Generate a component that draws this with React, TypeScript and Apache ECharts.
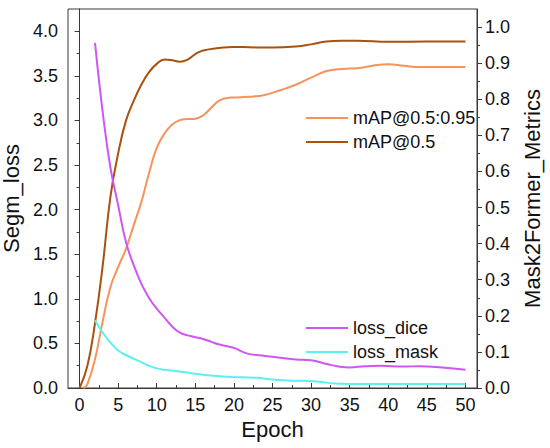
import React, { useEffect, useRef } from "react";
import * as echarts from "echarts";

// ---- data ----
const mapStrictX = [0.5, 1, 2, 3, 4, 5, 6, 7, 8, 9, 10, 11, 12, 13, 14, 15, 16, 17, 18, 19, 20, 22, 24, 26, 28, 30, 32, 34, 36, 38, 40, 42, 44, 47, 50];
const mapStrictY = [0, 0.01, 0.08, 0.185, 0.28, 0.335, 0.385, 0.45, 0.515, 0.595, 0.665, 0.705, 0.73, 0.742, 0.745, 0.746, 0.755, 0.775, 0.795, 0.803, 0.805, 0.807, 0.812, 0.825, 0.84, 0.86, 0.878, 0.884, 0.886, 0.893, 0.897, 0.893, 0.889, 0.889, 0.889];

const map50X = [0, 1, 2, 3, 4, 5, 6, 7, 8, 9, 10, 11, 12, 13, 14, 15, 16, 18, 20, 22, 25, 28, 30, 32, 34, 36, 40, 45, 50];
const map50Y = [0, 0.06, 0.18, 0.34, 0.53, 0.65, 0.74, 0.795, 0.84, 0.875, 0.898, 0.91, 0.908, 0.904, 0.91, 0.925, 0.935, 0.942, 0.945, 0.944, 0.943, 0.946, 0.952, 0.96, 0.962, 0.962, 0.959, 0.96, 0.96];

const diceX = [2, 3, 4, 5, 6, 7, 8, 9, 10, 11, 12, 13, 14, 15, 16, 17, 18, 19, 20, 21, 22, 24, 26, 28, 30, 32, 34, 35, 37, 39, 42, 44, 47, 50];
const diceY = [3.87, 3.09, 2.47, 2.05, 1.64, 1.38, 1.17, 1.01, 0.89, 0.79, 0.69, 0.62, 0.59, 0.57, 0.55, 0.52, 0.49, 0.47, 0.45, 0.41, 0.38, 0.36, 0.34, 0.32, 0.31, 0.27, 0.235, 0.23, 0.245, 0.25, 0.24, 0.245, 0.23, 0.205];

const maskX = [2, 3, 4, 5, 6, 7, 8, 9, 10, 11, 12, 13, 15, 17, 19, 21, 23, 25, 27, 29, 31, 33, 35, 40, 45, 50];
const maskY = [0.76, 0.62, 0.51, 0.42, 0.37, 0.33, 0.29, 0.25, 0.22, 0.205, 0.195, 0.185, 0.16, 0.14, 0.125, 0.12, 0.115, 0.095, 0.085, 0.08, 0.07, 0.05, 0.045, 0.045, 0.045, 0.045];

// ---- ticks ----
const xMajorTicks = [0, 5, 10, 15, 20, 25, 30, 35, 40, 45, 50];
const xMinorTicks = [2.5, 7.5, 12.5, 17.5, 22.5, 27.5, 32.5, 37.5, 42.5, 47.5];
const lossMajorTicks = [0, 0.5, 1.0, 1.5, 2.0, 2.5, 3.0, 3.5, 4.0];
const lossMinorTicks = [0.25, 0.75, 1.25, 1.75, 2.25, 2.75, 3.25, 3.75];
const metricMajorTicks = [0, 0.1, 0.2, 0.3, 0.4, 0.5, 0.6, 0.7, 0.8, 0.9, 1.0];
const metricMinorTicks = [0.05, 0.15, 0.25, 0.35, 0.45, 0.55, 0.65, 0.75, 0.85, 0.95];

const zip = (xs: number[], ys: number[]) => xs.map((x, i) => [x, ys[i]]);

const AXIS_COLOR = "#3a3a3a";
const FONT = "Liberation Sans, Arial, sans-serif";

export default function App() {
  const ref = useRef<HTMLDivElement>(null);
  useEffect(() => {
    if (!ref.current) return;
    const chart = echarts.init(ref.current, undefined, { renderer: "svg" });
    const xCommon = {
      type: "value",
      min: -1.5,
      max: 51.5,
      position: "bottom",
      splitLine: { show: false },
    };
    const lossCommon = {
      type: "value",
      min: 0,
      max: 4.25,
      position: "left",
      splitLine: { show: false },
    };
    const metricCommon = {
      type: "value",
      min: 0,
      max: 1.05,
      position: "right",
      splitLine: { show: false },
    };
    const line = (color: string) => ({
      type: "line",
      showSymbol: false,
      symbol: "none",
      smooth: 0.45,
      lineStyle: { color, width: 2 },
      itemStyle: { color },
    });
    chart.setOption({
      animation: false,
      textStyle: { fontFamily: FONT },
      grid: {
        left: 68,
        right: 73,
        top: 9,
        bottom: 60,
        outerBoundsMode: "none",
        containLabel: false,
        show: true,
        borderColor: AXIS_COLOR,
        borderWidth: 1,
      },
      legend: [
        {
          data: ["mAP@0.5:0.95", "mAP@0.5"],
          orient: "vertical",
          left: 301,
          top: 103,
          icon: "rect",
          itemWidth: 42,
          itemHeight: 2,
          itemGap: 4,
          selectedMode: false,
          textStyle: { fontSize: 18, color: "#111", lineHeight: 20, fontFamily: FONT },
        },
        {
          data: ["loss_dice", "loss_mask"],
          orient: "vertical",
          left: 301,
          top: 313,
          icon: "rect",
          itemWidth: 42,
          itemHeight: 2,
          itemGap: 4,
          selectedMode: false,
          textStyle: { fontSize: 18, color: "#111", lineHeight: 20, fontFamily: FONT },
        },
      ],
      xAxis: [
        {
          ...xCommon,
          name: "Epoch",
          nameLocation: "middle",
          nameGap: 27,
          nameTextStyle: { fontSize: 22, color: "#111", fontFamily: FONT },
          axisLine: { show: true, lineStyle: { color: AXIS_COLOR, width: 1 } },
          axisTick: { show: true, inside: true, length: 5, customValues: xMajorTicks, lineStyle: { color: AXIS_COLOR } },
          axisLabel: { show: true, customValues: xMajorTicks, fontSize: 18, color: "#111", margin: 8, fontFamily: FONT },
        },
        {
          ...xCommon,
          axisLine: { show: false },
          axisTick: { show: true, inside: true, length: 3, customValues: xMinorTicks, lineStyle: { color: AXIS_COLOR } },
          axisLabel: { show: false },
        },
      ],
      yAxis: [
        {
          ...lossCommon,
          name: "Segm_loss",
          nameLocation: "middle",
          nameGap: 42,
          nameTextStyle: { fontSize: 22, color: "#111", fontFamily: FONT },
          axisLine: { show: true, lineStyle: { color: AXIS_COLOR, width: 1 } },
          axisTick: { show: true, inside: false, length: 5, customValues: lossMajorTicks, lineStyle: { color: AXIS_COLOR } },
          axisLabel: {
            show: true,
            customValues: lossMajorTicks,
            fontSize: 18,
            color: "#111",
            margin: 10,
            fontFamily: FONT,
            formatter: (v: number) => v.toFixed(1),
          },
        },
        {
          ...lossCommon,
          axisLine: { show: false },
          axisTick: { show: true, inside: false, length: 3, customValues: lossMinorTicks, lineStyle: { color: AXIS_COLOR } },
          axisLabel: { show: false },
        },
        {
          ...metricCommon,
          name: "Mask2Former_Metrics",
          nameLocation: "middle",
          nameGap: 44,
          nameRotate: 90,
          nameTextStyle: { fontSize: 22, color: "#111", fontFamily: FONT },
          axisLine: { show: true, lineStyle: { color: AXIS_COLOR, width: 1 } },
          axisTick: { show: true, inside: false, length: 5, customValues: metricMajorTicks, lineStyle: { color: AXIS_COLOR } },
          axisLabel: {
            show: true,
            customValues: metricMajorTicks,
            fontSize: 18,
            color: "#111",
            margin: 8,
            fontFamily: FONT,
            formatter: (v: number) => v.toFixed(1),
          },
        },
        {
          ...metricCommon,
          axisLine: { show: false },
          axisTick: { show: true, inside: false, length: 3, customValues: metricMinorTicks, lineStyle: { color: AXIS_COLOR } },
          axisLabel: { show: false },
        },
      ],
      series: [
        { ...line("#F7925C"), name: "mAP@0.5:0.95", yAxisIndex: 2, data: zip(mapStrictX, mapStrictY) },
        { ...line("#A9520F"), name: "mAP@0.5", yAxisIndex: 2, data: zip(map50X, map50Y) },
        { ...line("#D056F4"), name: "loss_dice", yAxisIndex: 0, data: zip(diceX, diceY) },
        { ...line("#5CF0F0"), name: "loss_mask", yAxisIndex: 0, data: zip(maskX, maskY) },
      ],
    });
    return () => chart.dispose();
  }, []);
  return <div ref={ref} style={{ width: 550, height: 448, position: "absolute", left: 0, top: 0 }} />;
}
